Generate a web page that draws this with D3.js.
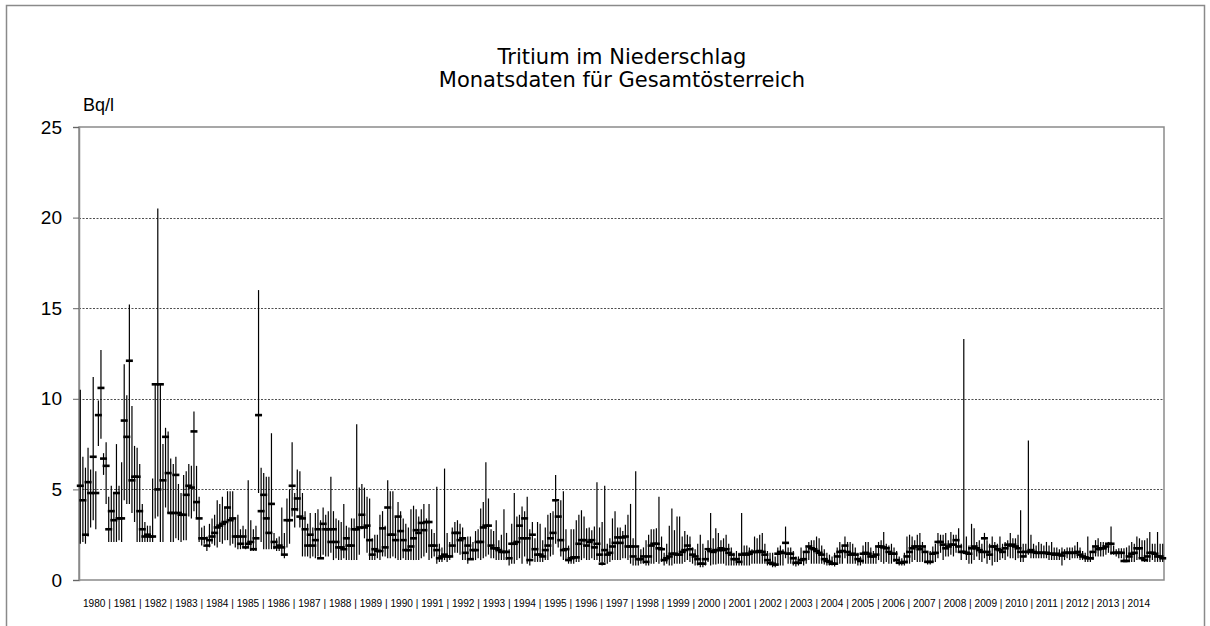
<!DOCTYPE html>
<html><head><meta charset="utf-8">
<script src="https://cdn.jsdelivr.net/npm/d3@7"></script>
<style>body{margin:0;background:#fff}svg{display:block}</style>
</head><body>
<svg id="c" width="1210" height="626"></svg>
<script>
const years = [1980,1981,1982,1983,1984,1985,1986,1987,1988,1989,1990,1991,1992,1993,1994,1995,1996,1997,1998,1999,2000,2001,2002,2003,2004,2005,2006,2007,2008,2009,2010,2011,2012,2013,2014];
const yTicks = [0,5,10,15,20,25];
const titleLines = ["Tritium im Niederschlag","Monatsdaten für Gesamtösterreich"];
const unitLabel = "Bq/l";

// monthly mean (Bq/l), one row per year
const monthlyMean = [
[5.2,4.4,2.5,5.4,4.8,6.8,4.8,9.1,10.6,6.7,6.3,2.8],
[3.8,3.3,4.8,3.4,3.4,8.8,7.9,12.1,5.5,5.7,5.7,3.8],
[2.8,2.4,2.5,2.4,2.4,10.8,5.0,10.8,5.5,7.9,5.9,3.7],
[3.7,5.8,3.7,3.6,3.6,4.7,5.2,5.1,8.2,4.3,3.4,2.3],
[2.3,1.9,2.2,2.4,2.6,2.9,3.0,3.1,3.2,4.0,3.3,3.4],
[2.4,2.4,2.0,2.4,1.8,2.0,2.1,1.7,2.3,9.1,3.8,4.7],
[3.4,2.6,4.2,2.1,1.8,1.9,1.8,1.4,3.3,3.3,5.2,3.9],
[4.5,3.5,3.4,2.8,1.9,2.5,1.9,2.2,2.8,1.2,3.1,2.8],
[2.8,2.1,2.8,2.1,1.8,1.8,1.7,2.3,1.9,1.9,2.8,2.8],
[2.9,3.6,2.9,3.0,2.2,1.4,1.7,1.6,1.6,2.85,1.8,4.0],
[2.5,2.5,2.2,3.5,2.7,2.2,1.65,1.65,1.85,2.3,2.75,2.6],
[3.15,2.75,3.2,3.2,1.9,1.9,1.65,1.2,1.3,1.4,1.3,1.3],
[1.9,2.6,2.6,2.2,2.3,1.5,1.9,1.15,1.65,1.65,2.1,2.1],
[2.9,3.0,3.0,1.9,1.75,1.75,1.65,1.55,1.55,1.55,1.2,2.0],
[2.0,2.1,3.0,2.3,3.4,2.3,1.1,2.5,1.7,1.4,1.4,1.3],
[1.65,1.9,2.3,2.6,4.4,3.5,2.2,1.65,1.7,1.1,1.2,1.25],
[1.25,2.0,2.2,2.2,1.9,2.1,2.2,1.8,2.0,1.4,0.9,1.65],
[1.4,1.5,1.85,2.05,2.35,2.05,2.35,2.4,1.85,1.85,1.3,1.85],
[1.15,1.15,1.3,1.0,1.3,1.9,2.0,2.0,1.75,1.7,1.1,1.2],
[1.3,1.45,1.45,1.4,1.4,1.55,1.65,1.9,1.7,1.4,1.3,1.15],
[0.9,0.9,1.15,1.7,1.6,1.55,1.65,1.65,1.75,1.65,1.7,1.5],
[1.4,1.15,1.15,1.0,1.4,1.45,1.4,1.45,1.55,1.55,1.55,1.6],
[1.55,1.4,1.1,0.95,0.9,0.85,1.45,1.55,1.5,2.05,1.45,1.45],
[1.2,0.95,0.95,1.1,1.15,1.55,1.85,1.75,1.7,1.6,1.5,1.4],
[1.15,1.05,1.0,0.9,0.9,1.3,1.55,1.6,1.9,1.55,1.4,1.45],
[1.4,1.15,1.05,1.45,1.5,1.45,1.3,1.3,1.4,1.85,1.85,1.8],
[1.75,1.55,1.45,1.45,1.1,0.95,0.95,1.0,1.3,1.55,1.75,1.85],
[1.85,1.7,1.85,1.55,1.0,1.0,1.45,1.5,2.1,2.1,1.95,1.75],
[1.85,1.95,1.95,2.2,1.85,1.55,1.55,1.5,1.45,1.75,1.85,1.75],
[1.65,1.55,2.3,1.55,1.4,1.85,1.85,1.7,1.65,1.55,1.75,1.95],
[1.9,1.95,1.85,1.75,1.55,1.3,1.55,1.55,1.65,1.55,1.5,1.5],
[1.5,1.5,1.5,1.45,1.45,1.4,1.45,1.4,1.35,1.5,1.5,1.5],
[1.5,1.5,1.55,1.4,1.3,1.25,1.2,1.2,1.55,1.85,1.7,1.75],
[1.75,1.85,2.0,2.0,1.5,1.5,1.5,1.5,1.05,1.05,1.3,1.45],
[1.5,1.75,1.75,1.2,1.1,1.3,1.5,1.5,1.45,1.3,1.3,1.2]
];

// monthly minimum (Bq/l)
const monthlyMin = [
[2.0,2.1,2.0,2.4,2.9,3.3,2.8,7.4,7.8,5.8,4.2,2.1],
[2.1,2.1,2.1,2.2,2.1,4.4,4.2,4.2,3.7,3.2,2.1,2.1],
[2.1,2.1,2.1,2.1,2.1,3.4,3.5,2.1,2.1,4.0,3.7,2.1],
[2.1,2.3,2.2,2.1,2.2,2.2,3.5,3.4,3.8,3.4,2.1,1.9],
[2.0,1.6,1.8,2.0,1.9,1.8,2.1,2.0,2.2,2.2,1.9,2.0],
[1.8,1.7,1.7,1.8,1.7,1.8,1.6,1.6,1.6,4.8,2.1,1.7],
[1.7,1.7,1.7,1.7,1.6,1.6,1.4,1.2,1.8,2.0,3.5,2.9],
[3.8,2.9,1.3,1.3,1.3,1.2,1.3,1.2,1.3,1.2,1.4,1.3],
[1.3,1.5,1.1,1.2,1.1,1.1,1.2,1.1,1.1,1.1,1.1,1.1],
[1.4,2.8,2.3,1.5,1.1,1.1,1.1,1.2,1.1,1.3,1.3,1.2],
[1.2,1.3,1.2,1.1,1.1,1.2,1.1,1.1,1.1,1.1,1.1,1.1],
[1.2,1.3,1.5,1.1,1.2,1.3,0.9,1.0,1.0,1.1,1.0,1.1],
[1.3,1.5,1.5,1.4,1.1,1.1,0.9,1.1,1.1,1.1,1.2,1.1],
[1.2,1.3,1.4,1.2,1.2,1.1,1.1,1.1,1.1,1.1,0.8,0.9],
[0.9,1.1,1.2,0.9,1.3,0.9,0.8,1.2,1.0,1.0,1.0,1.0],
[1.1,1.1,1.3,1.4,2.0,1.8,1.3,1.1,1.1,0.9,0.9,0.9],
[1.0,1.0,1.1,1.2,1.1,1.1,1.2,1.1,1.1,1.0,0.8,1.0],
[0.9,1.0,1.1,1.1,1.1,1.1,1.2,1.2,1.1,0.9,0.8,0.8],
[0.8,0.9,0.9,0.8,0.8,0.9,0.9,1.0,0.9,1.0,0.8,0.9],
[0.8,0.8,0.9,0.9,0.9,0.9,1.0,1.1,1.0,0.9,0.8,0.8],
[0.7,0.7,0.8,1.0,0.8,0.85,0.85,0.9,0.9,0.9,0.8,0.8],
[0.8,0.8,0.8,0.8,0.8,0.8,0.8,0.8,0.9,0.9,0.9,0.9],
[0.9,0.9,0.8,0.8,0.7,0.7,0.8,0.8,0.8,1.2,0.9,0.9],
[0.8,0.75,0.8,0.9,0.8,0.9,1.1,0.9,0.9,0.9,0.9,0.9],
[0.85,0.8,0.8,0.8,0.75,0.9,0.9,0.9,1.2,0.9,0.9,0.9],
[0.9,0.8,0.8,0.9,0.9,0.9,0.9,0.9,0.9,1.1,1.0,0.9],
[1.0,0.9,0.9,1.0,0.9,0.8,0.8,0.8,0.9,0.9,1.0,1.1],
[1.0,1.0,1.0,0.95,0.85,0.85,1.0,1.0,1.2,1.5,1.1,1.3],
[1.3,1.4,1.3,1.5,1.5,1.1,1.5,1.1,0.9,0.9,1.1,1.3],
[1.1,1.0,1.2,0.9,1.1,0.8,1.0,1.0,1.1,1.2,1.1,1.3],
[1.2,1.2,1.1,1.2,1.0,1.0,1.3,1.4,1.2,1.2,1.2,1.2],
[1.2,1.2,1.2,1.1,1.1,1.1,1.1,1.1,0.8,1.1,1.2,1.1],
[1.2,1.2,1.2,1.1,1.1,1.0,1.0,1.0,1.1,1.3,1.3,1.3],
[1.3,1.4,1.5,1.4,1.4,1.3,1.2,1.2,1.0,1.0,1.0,1.0],
[1.0,1.1,1.2,1.1,1.0,1.0,1.0,1.1,1.0,1.0,1.0,1.0]
];

// monthly maximum (Bq/l)
const monthlyMax = [
[10.5,6.8,6.2,7.3,6.1,11.2,6.0,9.9,12.7,7.0,7.6,4.6],
[5.2,4.8,7.5,5.2,6.5,11.9,10.2,15.2,9.6,7.4,7.3,6.4],
[4.2,3.2,3.0,3.0,5.6,10.8,20.5,10.8,7.5,8.4,8.2,6.7],
[6.4,6.8,5.3,4.8,5.8,6.0,6.4,6.3,9.3,6.3,4.6,2.9],
[3.0,2.4,3.1,3.4,3.6,4.4,4.2,4.6,4.0,4.9,4.9,4.9],
[3.4,3.6,2.8,3.0,2.8,5.5,3.3,2.8,3.0,16.0,6.2,5.9],
[5.7,5.7,8.1,2.6,2.3,2.4,4.0,2.6,4.5,5.0,7.6,4.8],
[6.1,6.0,4.8,3.8,3.1,3.7,2.9,3.7,3.9,3.3,4.0,3.6],
[3.8,5.7,3.8,3.4,3.3,3.2,4.2,3.0,2.9,3.4,3.4,8.6],
[5.1,5.3,5.1,4.6,4.5,2.3,2.5,2.5,3.6,3.8,3.0,5.5],
[4.9,4.9,3.5,4.3,3.8,3.4,3.1,2.9,3.9,4.1,3.9,3.5],
[3.9,4.2,3.4,4.2,2.8,2.6,5.15,2.0,1.8,6.15,2.6,2.1],
[2.9,3.2,3.3,3.1,2.9,2.3,2.4,2.4,2.1,2.7,2.8,3.95],
[4.3,6.5,4.5,2.8,2.7,3.3,2.2,2.5,3.9,2.6,1.7,3.1],
[4.8,3.5,3.6,4.05,3.8,4.6,2.8,3.2,2.3,3.2,3.1,2.2],
[2.9,3.6,3.7,3.8,5.8,4.3,4.4,4.9,2.8,1.9,2.8,2.8],
[3.3,3.6,3.85,3.5,2.85,2.9,2.75,2.95,5.4,2.9,3.2,5.2],
[2.0,2.3,3.4,3.8,2.9,2.9,2.7,3.05,3.6,4.2,2.3,6.0],
[1.8,1.7,1.8,2.2,2.5,2.8,2.8,2.85,4.6,2.4,1.5,2.0],
[3.0,3.95,2.75,3.5,3.5,2.4,2.7,2.5,2.4,1.8,1.7,2.0],
[2.5,2.0,1.6,2.2,3.7,2.3,2.85,2.6,2.2,2.3,2.5,2.0],
[1.8,1.5,1.6,1.5,3.7,1.9,1.9,1.8,1.7,2.4,2.3,2.5],
[2.6,2.0,1.6,1.5,1.5,1.3,1.8,1.9,1.7,2.95,1.8,1.8],
[1.6,1.3,1.3,1.8,1.6,1.8,2.1,2.2,2.2,2.4,2.3,1.9],
[1.7,1.5,1.4,1.3,1.5,1.8,2.1,1.9,2.4,2.1,2.1,2.0],
[1.8,1.5,1.3,1.9,2.1,2.1,1.8,1.6,1.8,2.1,2.2,2.65],
[2.0,1.9,2.0,1.8,1.6,1.3,1.2,1.5,2.4,2.5,2.4,2.2],
[2.5,2.6,2.1,1.9,1.5,1.6,1.85,2.0,2.6,2.5,2.5,2.6],
[2.2,2.65,2.5,2.5,2.85,2.0,13.3,2.4,1.9,3.1,2.85,2.1],
[2.2,2.0,2.6,2.2,2.0,2.4,2.1,2.0,2.4,2.0,2.1,2.2],
[2.6,2.3,2.3,2.5,3.85,2.0,2.0,7.7,2.5,2.0,1.9,2.1],
[2.0,1.9,2.1,1.9,2.1,1.8,1.8,1.7,1.8,1.7,1.8,1.8],
[1.8,1.9,2.1,1.8,1.6,1.5,2.4,1.6,1.8,2.2,2.3,2.1],
[2.1,2.0,2.1,2.95,1.9,1.7,1.75,1.75,1.75,1.8,1.9,2.1],
[2.0,2.4,2.3,2.2,2.2,2.3,2.65,2.0,2.0,2.65,2.0,2.0]
];

const W = 1210, H = 626;
const margin = {left: 79, right: 46, top: 127, bottom: 46};
const svg = d3.select("#c");

// flatten to monthly records
const data = [];
monthlyMean.forEach((row, yi) => row.forEach((m, mi) => {
  data.push({i: yi * 12 + mi, year: years[yi], month: mi + 1, mean: m, min: monthlyMin[yi][mi], max: monthlyMax[yi][mi]});
}));

const x = d3.scaleBand().domain(data.map(d => d.i)).range([margin.left, W - margin.right]).padding(0);
const y = d3.scaleLinear().domain([0, 25]).range([H - margin.bottom, margin.top]);
const bw = x.bandwidth();

// outer chart border
svg.append("rect").attr("x", 6.5).attr("y", 5.5).attr("width", 1198).attr("height", 700)
  .attr("fill", "none").attr("stroke", "#8a8a8a").attr("stroke-width", 1.5);

// gridlines
svg.append("g").selectAll("line").data(yTicks.filter(t => t > 0 && t < 25)).join("line")
  .attr("x1", margin.left).attr("x2", W - margin.right)
  .attr("y1", d => Math.round(y(d)) + 0.5).attr("y2", d => Math.round(y(d)) + 0.5)
  .attr("stroke", "#222").attr("stroke-width", 0.8).attr("stroke-dasharray", "2,1.5");

// plot frame
svg.append("rect").attr("x", margin.left).attr("y", margin.top)
  .attr("width", W - margin.right - margin.left).attr("height", y(0) - margin.top)
  .attr("fill", "none").attr("stroke", "#8a8a8a").attr("stroke-width", 1.5);

// y axis
const yAxis = svg.append("g").attr("transform", `translate(${margin.left},0)`)
  .call(d3.axisLeft(y).tickValues(yTicks).tickSize(6).tickPadding(11).tickFormat(d3.format("d")));
yAxis.select(".domain").attr("stroke", "#8a8a8a").attr("stroke-width", 1.5);
yAxis.selectAll(".tick line").attr("stroke", "#666");
yAxis.selectAll("text").attr("font-family", "Liberation Sans, Arial, sans-serif").attr("font-size", 19).attr("fill", "#000");

// high-low lines
const g = svg.append("g");
g.selectAll("line.hl").data(data).join("line").attr("class", "hl")
  .attr("x1", d => x(d.i) + bw / 2).attr("x2", d => x(d.i) + bw / 2)
  .attr("y1", d => y(d.min)).attr("y2", d => y(d.max))
  .attr("stroke", "#000").attr("stroke-width", 1.2);
// mean markers
g.selectAll("line.mk").data(data).join("line").attr("class", "mk")
  .attr("x1", d => x(d.i) + bw / 2 - 3.5).attr("x2", d => x(d.i) + bw / 2 + 3.5)
  .attr("y1", d => y(d.mean)).attr("y2", d => y(d.mean))
  .attr("stroke", "#000").attr("stroke-width", 2.6);

// x labels
svg.append("text").attr("x", 83).attr("y", 607)
  .attr("font-family", "Liberation Sans, Arial, sans-serif").attr("font-size", 10.1).attr("fill", "#000")
  .attr("textLength", 1067).attr("lengthAdjust", "spacing")
  .text(years.join(" | "));

// unit label
svg.append("text").attr("x", 83).attr("y", 111)
  .attr("font-family", "Liberation Sans, Arial, sans-serif").attr("font-size", 18).attr("fill", "#000")
  .text(unitLabel);

// title
svg.append("g").selectAll("text").data(titleLines).join("text")
  .attr("x", 622).attr("y", (d, i) => 64 + i * 23).attr("text-anchor", "middle")
  .attr("font-family", "DejaVu Sans, Verdana, sans-serif").attr("font-size", 21).attr("fill", "#000")
  .text(d => d);
</script>
</body></html>
